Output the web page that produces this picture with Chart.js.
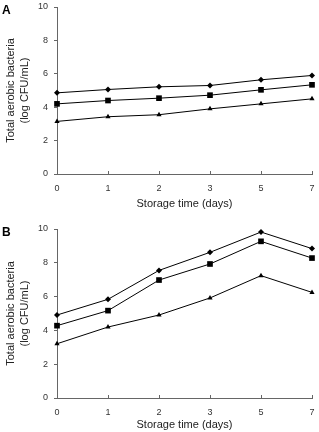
<!DOCTYPE html>
<html>
<head>
<meta charset="utf-8">
<script src="https://cdn.jsdelivr.net/npm/chart.js@4"></script>
<style>
  body { margin: 0; background: #fff; }
  .panel { position: relative; width: 319px; height: 216px; }
  .tag { position: absolute; left: 2px; font: bold 12px "Liberation Sans", Arial, sans-serif; color: #000; }
</style>
</head>
<body>
<div class="panel"><div class="tag" style="top:3px">A</div><canvas id="chartA" width="319" height="216"></canvas></div>
<div class="panel"><div class="tag" style="top:9px">B</div><canvas id="chartB" width="319" height="216"></canvas></div>
<script>
// storage days (category axis, evenly spaced)
const days = ['0', '1', '2', '3', '5', '7'];

// panel A
const aDiamond  = [4.86, 5.06, 5.22, 5.30, 5.64, 5.90];
const aSquare   = [4.20, 4.40, 4.54, 4.72, 5.04, 5.34];
const aTriangle = [3.15, 3.43, 3.55, 3.90, 4.20, 4.50];

// panel B
const bDiamond  = [4.91, 5.84, 7.55, 8.62, 9.82, 8.84];
const bSquare   = [4.28, 5.17, 6.98, 7.93, 9.27, 8.28];
const bTriangle = [3.21, 4.20, 4.91, 5.92, 7.24, 6.25];

const FONT = '"Liberation Sans", Arial, sans-serif';

function series(values, style, radius) {
  return {
    data: values,
    borderColor: '#000',
    backgroundColor: '#000',
    borderWidth: 1,
    pointStyle: style,
    pointRadius: radius,
    pointHoverRadius: radius,
    pointBorderWidth: 0,
    tension: 0
  };
}

// draw one panel; top = padding above the plot, axisH = room under it
function drawPanel(id, d, s, t, top, axisH, titleGap) {
  new Chart(document.getElementById(id), {
    type: 'line',
    data: {
      labels: days,
      datasets: [series(d, 'rectRot', 3), series(s, 'rect', 4), series(t, 'triangle', 3)]
    },
    options: {
      responsive: false,
      animation: false,
      layout: { padding: { top: top, right: 7, left: 0, bottom: 0 } },
      plugins: { legend: { display: false }, tooltip: { enabled: false } },
      scales: {
        x: {
          offset: false,
          grid: { drawOnChartArea: false, tickLength: -3, color: '#666' },
          border: { color: '#666', width: 1 },
          ticks: { color: '#333', font: { family: FONT, size: 9 }, padding: 12, maxRotation: 0 },
          title: { display: true, text: 'Storage time (days)', color: '#222',
                   font: { family: FONT, size: 11 }, padding: { top: 2, bottom: titleGap } },
          afterFit: sc => { sc.height = axisH; sc.paddingLeft = 0; sc.paddingRight = 0; }
        },
        y: {
          min: 0, max: 10,
          grid: { drawOnChartArea: false, tickLength: 3, color: '#666' },
          border: { color: '#666', width: 1 },
          ticks: { stepSize: 2, color: '#333', font: { family: FONT, size: 9 }, padding: 6 },
          title: { display: true, text: ['Total aerobic bacteria', '(log CFU/mL)'], color: '#222',
                   font: { family: FONT, size: 11, lineHeight: 1.3 }, padding: { top: 4, bottom: 0 } },
          afterFit: sc => { sc.width = 57; sc.paddingTop = 0; sc.paddingBottom = 0; }
        }
      }
    }
  });
}

drawPanel('chartA', aDiamond, aSquare, aTriangle, 7, 42, 5);
drawPanel('chartB', bDiamond, bSquare, bTriangle, 13, 34, 0);
</script>
</body>
</html>
